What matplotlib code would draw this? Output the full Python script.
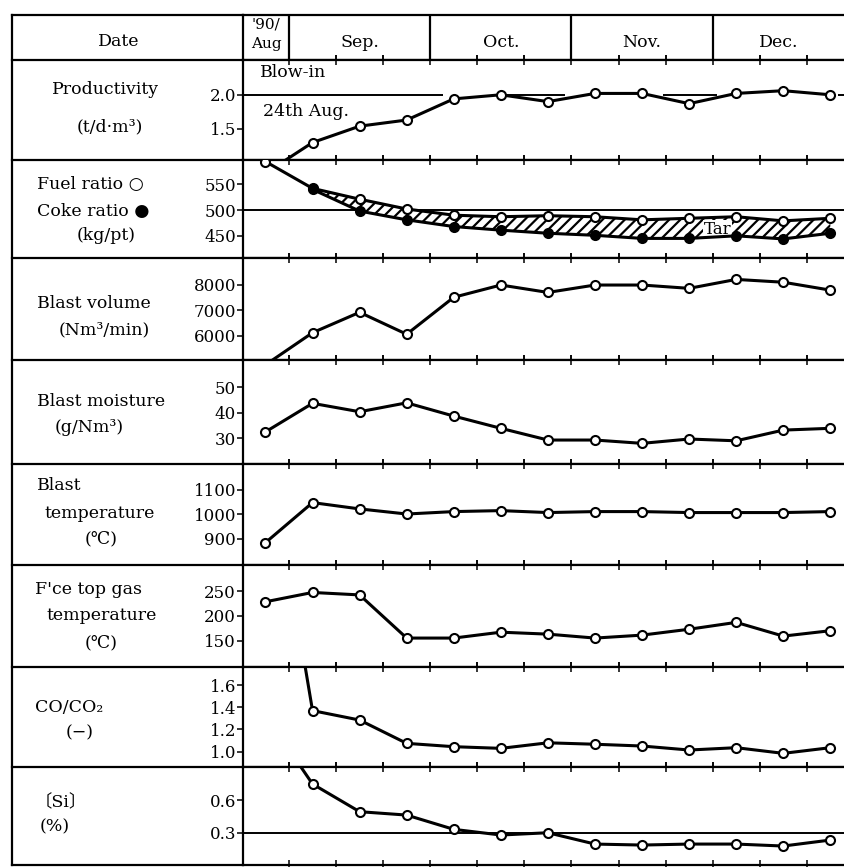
import numpy as np
import matplotlib
matplotlib.use("Agg")
import matplotlib.pyplot as plt
from matplotlib.lines import Line2D

plt.rcParams['font.family'] = ['DejaVu Serif', 'Noto Sans CJK JP', 'DejaVu Sans']
plt.rcParams['hatch.linewidth'] = 1.6

W, H = 844, 867

# 10-day periods: tick k = Sep 1, Sep 11, ..., Dec 21; points sit mid-period
x = np.arange(13) - 0.5
ticks10 = np.arange(12)
month_names = ["Sep.", "Oct.", "Nov.", "Dec."]
month_starts = [0, 3, 6, 9]

productivity = [0.85, 1.30, 1.54, 1.63, 1.94, 2.00, 1.90, 2.02, 2.02, 1.87, 2.02, 2.06, 2.00]
fuel_ratio = [594, 542, 521, 502, 490, 487, 489, 487, 481, 484, 487, 479, 484]
coke_ratio = [np.nan, 540, 498, 481, 468, 461, 455, 451, 445, 445, 450, 444, 455]
blast_volume = [4850, 6110, 6910, 6050, 7500, 7980, 7690, 7980, 7980, 7850, 8200, 8090, 7780]
blast_moisture = [32.5, 43.7, 40.4, 43.9, 38.7, 33.9, 29.3, 29.3, 28.0, 29.7, 29.0, 33.2, 33.9]
blast_temp = [883, 1048, 1022, 1001, 1011, 1015, 1007, 1011, 1011, 1007, 1007, 1007, 1011]
top_gas_temp = [229, 248, 243, 155, 155, 167, 163, 155, 161, 173, 187, 159, 170]
co_co2 = [3.9, 1.37, 1.285, 1.075, 1.045, 1.03, 1.08, 1.067, 1.051, 1.015, 1.036, 0.985, 1.036]
si = [1.38, 0.747, 0.493, 0.462, 0.331, 0.279, 0.30, 0.196, 0.187, 0.196, 0.196, 0.178, 0.233]

# target lines
prod_target = 2.0
prod_target_spans = [(-1.0, 3.27), (4.63, 5.86), (7.94, 9.09), (11.66, 12.0)]
fuel_target = 500
si_target = 0.3

# y ranges / ticks per panel
prod_ylim, prod_ticks = (1.044, 2.51), [1.5, 2.0]
fuel_ylim, fuel_ticks = (407, 597), [450, 500, 550]
vol_ylim, vol_ticks = (5040, 9040), [6000, 7000, 8000]
moist_ylim, moist_ticks = (19.9, 60.7), [30, 40, 50]
temp_ylim, temp_ticks = (791, 1207), [900, 1000, 1100]
gas_ylim, gas_ticks = (96, 304), [150, 200, 250]
co_ylim, co_ticks = (0.862, 1.763), [1.0, 1.2, 1.4, 1.6]
si_ylim, si_ticks = (0.004, 0.903), [0.3, 0.6]

# row labels: (text, x px, y px, ha)
row_labels = [
    ("Date", 119, 41, "center"),
    ("Productivity", 106, 89, "center"), ("(t/d·m³)", 110, 127, "center"),
    ("Fuel ratio ○", 37, 184, "left"), ("Coke ratio ●", 37, 211, "left"),
    ("(kg/pt)", 106, 236, "center"),
    ("Blast volume", 37, 303, "left"), ("(Nm³/min)", 104, 330, "center"),
    ("Blast moisture", 37, 402, "left"), ("(g/Nm³)", 89, 428, "center"),
    ("Blast", 37, 485, "left"), ("temperature", 100, 513, "center"), ("(℃)", 101, 539, "center"),
    ("F'ce top gas", 35, 589, "left"), ("temperature", 102, 616, "center"), ("(℃)", 101, 643, "center"),
    ("CO/CO₂", 35, 707, "left"), ("(−)", 80, 733, "center"),
    ("〔Si〕", 35, 803, "left"), ("(%)", 40, 827, "left"),
]

edges = [15, 60, 160, 258, 360, 464, 565, 667, 767, 865]
left_px, col_px = 12, 243
xl = (-0.977, 11.79)
LW = 1.6
FS = 12.5
TFS = 12


def fx(px):
    return px / W


def fy(py):
    return 1 - py / H


fig = plt.figure(figsize=(W / 100, H / 100), dpi=100)


def add_band(top, bottom):
    ax = fig.add_axes([fx(col_px), fy(bottom), 1 - fx(col_px), (bottom - top) / H])
    ax.set_xlim(*xl)
    ax.spines['right'].set_visible(False)
    for s in ['left', 'top', 'bottom']:
        ax.spines[s].set_linewidth(LW)
    ax.set_xticks(ticks10)
    ax.tick_params(axis='x', top=True, bottom=True, direction='inout',
                   length=7, width=1.1, labelbottom=False)
    return ax


# header
hax = add_band(edges[0], edges[1])
hax.set_ylim(0, 1)
hax.set_yticks([])
hax.tick_params(axis='x', top=False)
for s in month_starts:
    hax.axvline(s, color='k', lw=LW)
bounds = month_starts + [xl[1]]
for name, a, b in zip(month_names, bounds[:-1], bounds[1:]):
    hax.text((a + b) / 2, 0.38, name, ha='center', va='center', fontsize=FS)
hax.text(-0.49, 0.78, "'90/", ha='center', va='center', fontsize=TFS - 1)
hax.text(-0.49, 0.36, "Aug", ha='center', va='center', fontsize=TFS - 1)

panels = [
    (prod_ylim, prod_ticks, "{:.1f}"),
    (fuel_ylim, fuel_ticks, "{:.0f}"),
    (vol_ylim, vol_ticks, "{:.0f}"),
    (moist_ylim, moist_ticks, "{:.0f}"),
    (temp_ylim, temp_ticks, "{:.0f}"),
    (gas_ylim, gas_ticks, "{:.0f}"),
    (co_ylim, co_ticks, "{:.1f}"),
    (si_ylim, si_ticks, "{:.1f}"),
]
axes = []
for i, (yl, yt, fmt) in enumerate(panels):
    ax = add_band(edges[i + 1], edges[i + 2])
    ax.set_ylim(*yl)
    ax.set_yticks(yt)
    ax.set_yticklabels([fmt.format(v) for v in yt], fontsize=TFS)
    ax.tick_params(axis='y', direction='out', length=4, width=1.1, pad=1)
    axes.append(ax)

line_kw = dict(color='k', lw=2.2, marker='o', ms=6.5, mfc='white', mec='k', mew=1.5, zorder=4)

ax = axes[0]
for a, b in prod_target_spans:
    ax.hlines(prod_target, a, b, color='k', lw=1.4, zorder=2)
ax.plot(x, productivity, **line_kw)
ax.text(-0.62, 2.32, "Blow-in", fontsize=FS, va='center')
ax.text(-0.55, 1.75, "24th Aug.", fontsize=FS, va='center')

ax = axes[1]
ax.axhline(fuel_target, color='k', lw=1.4, zorder=1)
ax.fill_between(x, coke_ratio, fuel_ratio, facecolor='white', edgecolor='k',
                hatch='///', lw=0, zorder=2)
ax.plot(x, fuel_ratio, **line_kw)
ax.plot(x, coke_ratio, **{**line_kw, 'mfc': 'k', 'zorder': 5})
# label sits over the hatch but under the lines
ax.text(9.1, 463, "Tar", fontsize=TFS, ha='center', va='center', zorder=3,
        bbox=dict(facecolor='white', edgecolor='none', pad=0.5))

for ax, ys in zip(axes[2:], [blast_volume, blast_moisture, blast_temp, top_gas_temp, co_co2]):
    ax.plot(x, ys, **line_kw)

ax = axes[7]
ax.axhline(si_target, color='k', lw=1.4, zorder=1)
ax.plot(x, si, **line_kw)

# label column frame
fig.add_artist(Line2D([fx(left_px)] * 2, [fy(edges[0]), fy(edges[-1])], color='k', lw=LW))
for e in edges:
    fig.add_artist(Line2D([fx(left_px), fx(col_px)], [fy(e)] * 2, color='k', lw=LW))
for txt, px, py, ha in row_labels:
    fig.text(fx(px), fy(py), txt, ha=ha, va='center', fontsize=FS)

fig.savefig("out.png", dpi=100, facecolor='white')
